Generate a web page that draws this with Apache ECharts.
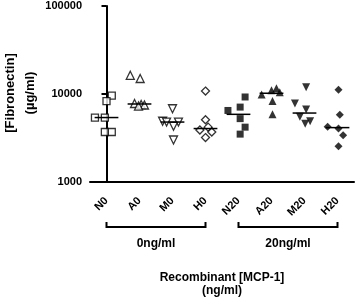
<!DOCTYPE html>
<html>
<head>
<meta charset="utf-8">
<script src="https://cdn.jsdelivr.net/npm/echarts@6/dist/echarts.min.js"></script>
<style>
  html, body { margin: 0; padding: 0; background: #fff; }
  #chart { width: 358px; height: 304px; }
</style>
</head>
<body>
<div id="chart"></div>
<script>
const categories = ['N0', 'A0', 'M0', 'H0', 'N20', 'A20', 'M20', 'H20'];

// fibronectin (µg/ml) per animal
const n0 = [9600, 8300, 5400, 5400, 3700, 3700];
const a0 = [16300, 15000, 7800, 7600, 7500, 7300];
const m0 = [6800, 4900, 4800, 4800, 4300, 3000];
const h0 = [10800, 5100, 4200, 3900, 3700, 3200];
const n20 = [9250, 7100, 6500, 5250, 4200, 3500];
const a20 = [11600, 11000, 10500, 9900, 8300, 5900];
const m20 = [11900, 7800, 6650, 5500, 4900, 4600];
const h20 = [11200, 5800, 4250, 4050, 3400, 2550];

// horizontal scatter of points inside each column (category units)
const n0Dx = [0.16, 0, -0.35, -0.05, -0.05, 0.16];
const a0Dx = [-0.28, 0.02, -0.15, 0.05, 0.15, -0.03];
const m0Dx = [0, -0.3, -0.18, 0.18, 0.03, 0.03];
const h0Dx = [0, 0, 0.08, -0.17, 0.19, 0];
const n20Dx = [0.2, 0.05, -0.32, 0.05, 0.2, 0.05];
const a20Dx = [0.15, 0, 0.25, -0.3, 0.03, 0.03];
const m20Dx = [0.05, -0.29, 0.05, -0.14, 0.17, 0.02];
const h20Dx = [0.03, 0.07, -0.3, 0.03, 0.17, 0.03];

const groupLabels = ['0ng/ml', '20ng/ml'];
const groupSpans = [[0, 3], [4, 7]];

const FONT = '"Liberation Sans", Arial, sans-serif';
const diamond = 'path://M0,-1L1,0L0,1L-1,0Z';

const groups = [
  { vals: n0, dx: n0Dx, symbol: 'rect', size: 7, rot: 0, filled: false },
  { vals: a0, dx: a0Dx, symbol: 'triangle', size: 8, rot: 0, filled: false },
  { vals: m0, dx: m0Dx, symbol: 'triangle', size: 8, rot: 180, filled: false },
  { vals: h0, dx: h0Dx, symbol: diamond, size: 8, rot: 0, filled: false },
  { vals: n20, dx: n20Dx, symbol: 'rect', size: 7, rot: 0, filled: true },
  { vals: a20, dx: a20Dx, symbol: 'triangle', size: 8, rot: 0, filled: true },
  { vals: m20, dx: m20Dx, symbol: 'triangle', size: 8, rot: 180, filled: true },
  { vals: h20, dx: h20Dx, symbol: diamond, size: 8, rot: 0, filled: true }
];

function median(arr) {
  const s = arr.slice().sort((a, b) => a - b);
  const m = Math.floor(s.length / 2);
  return s.length % 2 ? s[m] : (s[m - 1] + s[m]) / 2;
}

const series = groups.map((g, i) => ({
  type: 'scatter',
  xAxisIndex: 1,
  symbol: g.symbol,
  symbolSize: g.size,
  symbolRotate: g.rot,
  symbolKeepAspect: true,
  itemStyle: {
    color: g.filled ? '#000' : '#fff',
    borderColor: '#000',
    borderWidth: g.filled ? 0 : 1.3
  },
  z: 3,
  data: g.vals.map((v, k) => [i + g.dx[k], v])
}));

series.push({
  type: 'custom',
  xAxisIndex: 1,
  z: 4,
  renderItem: (params, api) => {
    const i = api.value(0), m = api.value(1);
    const a = api.coord([i - 0.36, m]);
    const b = api.coord([i + 0.36, m]);
    return {
      type: 'line',
      shape: { x1: a[0], y1: a[1], x2: b[0], y2: b[1] },
      style: { stroke: '#000', lineWidth: 1.5 }
    };
  },
  data: groups.map((g, i) => [i, median(g.vals)])
});

// brackets under the axis
series.push({
  type: 'custom',
  xAxisIndex: 1,
  clip: false,
  silent: true,
  renderItem: (params, api) => {
    const a = api.coord([api.value(0), 1000]);
    const b = api.coord([api.value(1), 1000]);
    const y = a[1] + 45;
    return {
      type: 'group',
      children: [{
        type: 'polyline',
        shape: { points: [[a[0], y - 5], [a[0], y], [b[0], y], [b[0], y - 5]] },
        style: { stroke: '#000', lineWidth: 2, fill: null }
      }, {
        type: 'text',
        style: {
          x: (a[0] + b[0]) / 2, y: y + 17,
          text: groupLabels[params.dataIndex],
          align: 'center', verticalAlign: 'middle',
          fontSize: 12, fontWeight: 'bold', fontFamily: FONT, fill: '#000'
        }
      }]
    };
  },
  data: groupSpans
});

const chart = echarts.init(document.getElementById('chart'));
chart.setOption({
  animation: false,
  backgroundColor: '#fff',
  grid: { left: 90, right: 4, top: 6, bottom: 122, containLabel: false, outerBoundsMode: 'none' },
  graphic: [{
    type: 'text',
    x: 20,
    y: 93,
    rotation: Math.PI / 2,
    style: {
      text: '[Fibronectin]\n(µg/ml)',
      align: 'center', verticalAlign: 'middle',
      lineHeight: 20, fontSize: 13, fontWeight: 'bold', fontFamily: FONT, fill: '#000'
    }
  }],
  xAxis: [{
    type: 'category',
    data: categories,
    boundaryGap: true,
    name: 'Recombinant [MCP-1]\n(ng/ml)',
    nameLocation: 'middle',
    nameGap: 89,
    nameTextStyle: { fontSize: 12, fontWeight: 'bold', fontFamily: FONT, color: '#000', lineHeight: 13 },
    axisLine: { lineStyle: { color: '#000', width: 2 } },
    axisTick: { alignWithLabel: true, length: 5, lineStyle: { color: '#000', width: 2 } },
    axisLabel: { rotate: 45, margin: 17, fontSize: 11, fontWeight: 'bold', fontFamily: FONT, color: '#000' },
    splitLine: { show: false }
  }, {
    type: 'value',
    min: -0.5,
    max: 7.5,
    show: false
  }],
  yAxis: {
    type: 'log',
    logBase: 10,
    min: 1000,
    max: 100000,
    axisLine: { show: true, lineStyle: { color: '#000', width: 2 } },
    axisTick: { show: true, length: 5, lineStyle: { color: '#000', width: 2 } },
    minorTick: { show: false },
    axisLabel: { margin: 8, fontSize: 11, fontWeight: 'bold', fontFamily: FONT, color: '#000', formatter: v => String(v) },
    splitLine: { show: false }
  },
  series: series
});
</script>
</body>
</html>
